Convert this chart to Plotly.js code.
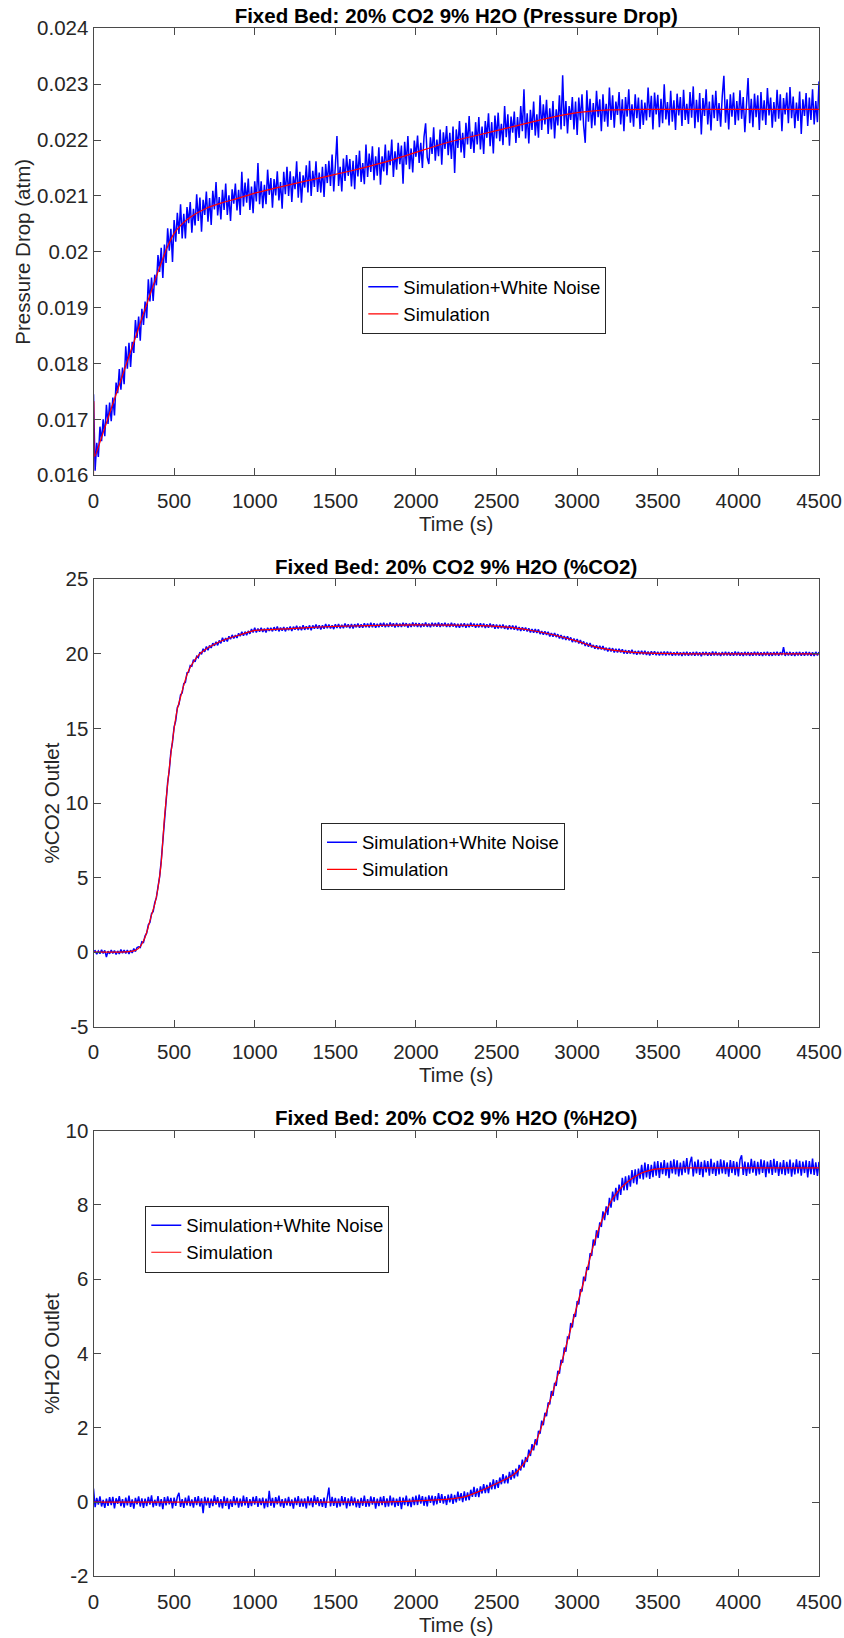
<!DOCTYPE html>
<html>
<head>
<meta charset="utf-8">
<script src="https://cdn.plot.ly/plotly-3.0.1.min.js"></script>
<style>
  html, body { margin: 0; padding: 0; background: #ffffff; }
  #chart { width: 844px; height: 1638px; }
</style>
</head>
<body>
<div id="chart"></div>
<script>
// ---------------- DATA ----------------
const timeTickVals = [0, 500, 1000, 1500, 2000, 2500, 3000, 3500, 4000, 4500];
const timeTickLabels = ["0", "500", "1000", "1500", "2000", "2500", "3000", "3500", "4000", "4500"];

// Chart 1: pressure drop (atm); noisy samples every 10 s
const pressureStep = 10;
const pressureNoisy = [
  0.01745,
  0.01608, 0.01658, 0.01633, 0.01687, 0.01661, 0.01700, 0.01670, 0.01726, 0.01692, 0.01730,
  0.01697, 0.01739, 0.01707, 0.01766, 0.01747, 0.01790, 0.01753, 0.01793, 0.01763, 0.01831,
  0.01791, 0.01837, 0.01794, 0.01839, 0.01819, 0.01878, 0.01846, 0.01884, 0.01841, 0.01898,
  0.01869, 0.01911, 0.01881, 0.01951, 0.01911, 0.01954, 0.01912, 0.01959, 0.01940, 0.01994,
  0.01964, 0.02007, 0.01953, 0.02013, 0.01980, 0.02042, 0.02002, 0.02041, 0.01982, 0.02057,
  0.02018, 0.02070, 0.02032, 0.02085, 0.02024, 0.02068, 0.02024, 0.02080, 0.02051, 0.02089,
  0.02034, 0.02077, 0.02047, 0.02103, 0.02055, 0.02097, 0.02036, 0.02093, 0.02066, 0.02108,
  0.02054, 0.02096, 0.02048, 0.02109, 0.02076, 0.02125, 0.02065, 0.02098, 0.02058, 0.02111,
  0.02075, 0.02122, 0.02066, 0.02101, 0.02055, 0.02112, 0.02086, 0.02122, 0.02074, 0.02111,
  0.02066, 0.02143, 0.02081, 0.02124, 0.02088, 0.02131, 0.02075, 0.02117, 0.02069, 0.02126,
  0.02090, 0.02159, 0.02085, 0.02126, 0.02078, 0.02120, 0.02085, 0.02147, 0.02102, 0.02132,
  0.02079, 0.02130, 0.02101, 0.02144, 0.02092, 0.02125, 0.02077, 0.02143, 0.02103, 0.02152,
  0.02100, 0.02144, 0.02089, 0.02135, 0.02112, 0.02162, 0.02097, 0.02143, 0.02088, 0.02137,
  0.02115, 0.02155, 0.02106, 0.02163, 0.02100, 0.02145, 0.02116, 0.02162, 0.02107, 0.02142,
  0.02106, 0.02152, 0.02098, 0.02157, 0.02123, 0.02163, 0.02118, 0.02174, 0.02108, 0.02153,
  0.02207, 0.02118, 0.02152, 0.02108, 0.02167, 0.02127, 0.02173, 0.02136, 0.02166, 0.02117,
  0.02163, 0.02112, 0.02173, 0.02135, 0.02181, 0.02125, 0.02159, 0.02121, 0.02192, 0.02134,
  0.02176, 0.02143, 0.02189, 0.02128, 0.02171, 0.02136, 0.02187, 0.02120, 0.02171, 0.02144,
  0.02192, 0.02137, 0.02181, 0.02155, 0.02201, 0.02134, 0.02180, 0.02147, 0.02195, 0.02157,
  0.02190, 0.02122, 0.02197, 0.02156, 0.02207, 0.02148, 0.02185, 0.02142, 0.02199, 0.02170,
  0.02208, 0.02159, 0.02195, 0.02150, 0.02206, 0.02230, 0.02169, 0.02157, 0.02205, 0.02175,
  0.02223, 0.02163, 0.02201, 0.02171, 0.02219, 0.02156, 0.02214, 0.02184, 0.02225, 0.02173,
  0.02213, 0.02166, 0.02224, 0.02141, 0.02219, 0.02186, 0.02234, 0.02178, 0.02213, 0.02168,
  0.02231, 0.02192, 0.02243, 0.02184, 0.02215, 0.02177, 0.02232, 0.02192, 0.02241, 0.02183,
  0.02224, 0.02175, 0.02234, 0.02204, 0.02248, 0.02189, 0.02232, 0.02176, 0.02244, 0.02203,
  0.02249, 0.02198, 0.02229, 0.02191, 0.02261, 0.02205, 0.02246, 0.02190, 0.02242, 0.02213,
  0.02251, 0.02195, 0.02241, 0.02204, 0.02261, 0.02216, 0.02291, 0.02203, 0.02248, 0.02194,
  0.02254, 0.02218, 0.02269, 0.02208, 0.02246, 0.02204, 0.02280, 0.02218, 0.02264, 0.02228,
  0.02272, 0.02211, 0.02257, 0.02219, 0.02270, 0.02203, 0.02255, 0.02226, 0.02280, 0.02219,
  0.02316, 0.02225, 0.02270, 0.02212, 0.02261, 0.02236, 0.02277, 0.02219, 0.02269, 0.02209,
  0.02276, 0.02235, 0.02282, 0.02226, 0.02195, 0.02289, 0.02233, 0.02274, 0.02221, 0.02266,
  0.02226, 0.02288, 0.02241, 0.02273, 0.02216, 0.02282, 0.02233, 0.02265, 0.02224, 0.02294,
  0.02236, 0.02280, 0.02222, 0.02269, 0.02245, 0.02286, 0.02228, 0.02273, 0.02216, 0.02277,
  0.02242, 0.02291, 0.02231, 0.02264, 0.02224, 0.02282, 0.02239, 0.02276, 0.02220, 0.02272,
  0.02227, 0.02267, 0.02235, 0.02294, 0.02241, 0.02279, 0.02219, 0.02285, 0.02246, 0.02281,
  0.02223, 0.02274, 0.02230, 0.02300, 0.02237, 0.02268, 0.02226, 0.02288, 0.02233, 0.02271,
  0.02218, 0.02283, 0.02244, 0.02277, 0.02225, 0.02290, 0.02236, 0.02265, 0.02229, 0.02286,
  0.02240, 0.02296, 0.02221, 0.02272, 0.02232, 0.02284, 0.02210, 0.02275, 0.02243, 0.02291,
  0.02228, 0.02269, 0.02217, 0.02281, 0.02239, 0.02288, 0.02234, 0.02266, 0.02224, 0.02279,
  0.02315, 0.02231, 0.02273, 0.02219, 0.02282, 0.02242, 0.02285, 0.02227, 0.02270, 0.02235,
  0.02289, 0.02238, 0.02277, 0.02214, 0.02267, 0.02311, 0.02230, 0.02274, 0.02223, 0.02283,
  0.02241, 0.02280, 0.02218, 0.02286, 0.02235, 0.02271, 0.02227, 0.02293, 0.02244, 0.02276,
  0.02222, 0.02268, 0.02233, 0.02290, 0.02238, 0.02282, 0.02216, 0.02275, 0.02246, 0.02285,
  0.02230, 0.02295, 0.02239, 0.02278, 0.02221, 0.02267, 0.02234, 0.02287, 0.02211, 0.02273,
  0.02243, 0.02284, 0.02225, 0.02276, 0.02236, 0.02291, 0.02228, 0.02270, 0.02232, 0.02305
];
const pressureSimTime = [0, 2, 8, 50, 100, 150, 200, 250, 300, 350, 400, 450, 500, 550, 600, 700, 800, 900, 1000, 1200, 1400, 1600, 1800, 2000, 2200, 2400, 2600, 2800, 3000, 3200, 3400, 4500];
const pressureSim = [0.01600, 0.01733, 0.01634, 0.01668, 0.01711, 0.01753, 0.01796, 0.01838, 0.01881, 0.01923, 0.01964, 0.02003, 0.02033, 0.02050, 0.02062, 0.02078, 0.02088, 0.02096, 0.02105, 0.02119, 0.02132, 0.02145, 0.02160, 0.02178, 0.02196, 0.02210, 0.02224, 0.02238, 0.02249, 0.02254, 0.02255, 0.02255];
const pressureTickVals = [0.016, 0.017, 0.018, 0.019, 0.020, 0.021, 0.022, 0.023, 0.024];
const pressureTickLabels = ["0.016", "0.017", "0.018", "0.019", "0.02", "0.021", "0.022", "0.023", "0.024"];

// Chart 2: %CO2 outlet; noisy samples every 10 s
const co2Step = 10;
const co2Noisy = [
  0.05,
  0.09, -0.13, 0.07, -0.10, 0.15, -0.08, 0.12, -0.33, 0.06, -0.11,
  0.14, -0.09, 0.11, -0.16, 0.08, -0.12, 0.17, -0.07, 0.13, -0.08,
  0.14, -0.12, 0.13, -0.05, 0.24, 0.04, 0.31, 0.35, 0.31, 0.69,
  0.65, 1.10, 1.27, 1.83, 1.99, 2.59, 2.71, 3.32, 3.65, 4.38,
  5.05, 6.12, 7.41, 9.11, 10.02, 11.38, 12.18, 13.44, 14.06, 15.10,
  15.51, 16.41, 16.61, 17.25, 17.38, 18.00, 18.09, 18.73, 18.77, 19.22,
  19.17, 19.61, 19.47, 19.84, 19.75, 20.11, 19.98, 20.34, 20.14, 20.49,
  20.25, 20.56, 20.40, 20.72, 20.54, 20.81, 20.57, 20.90, 20.71, 21.08,
  20.81, 21.06, 20.83, 21.18, 20.98, 21.27, 21.03, 21.26, 21.07, 21.38,
  21.19, 21.48, 21.21, 21.49, 21.25, 21.54, 21.34, 21.66, 21.43, 21.76,
  21.43, 21.70, 21.49, 21.75, 21.47, 21.69, 21.43, 21.75, 21.54, 21.74,
  21.51, 21.79, 21.55, 21.83, 21.51, 21.76, 21.55, 21.80, 21.51, 21.77,
  21.59, 21.83, 21.53, 21.82, 21.62, 21.88, 21.59, 21.84, 21.58, 21.92,
  21.61, 21.85, 21.64, 21.91, 21.59, 21.91, 21.69, 21.96, 21.68, 21.92,
  21.64, 21.92, 21.68, 22.01, 21.72, 21.96, 21.71, 21.92, 21.66, 21.99,
  21.73, 22.00, 21.71, 21.95, 21.72, 22.04, 21.77, 21.98, 21.72, 22.00,
  21.70, 21.99, 21.78, 22.03, 21.76, 21.98, 21.75, 22.06, 21.78, 22.03,
  21.77, 22.08, 21.79, 22.05, 21.75, 22.01, 21.79, 22.07, 21.83, 22.08,
  21.78, 22.04, 21.80, 22.10, 21.83, 22.05, 21.77, 22.07, 21.81, 22.03,
  21.81, 22.08, 21.84, 22.06, 21.76, 22.04, 21.80, 22.10, 21.84, 22.06,
  21.80, 22.06, 21.78, 22.04, 21.83, 22.11, 21.81, 22.03, 21.79, 22.08,
  21.84, 22.07, 21.82, 22.10, 21.80, 22.05, 21.85, 22.08, 21.80, 22.03,
  21.80, 22.09, 21.83, 22.04, 21.77, 22.01, 21.75, 22.04, 21.80, 22.05,
  21.75, 22.01, 21.79, 22.08, 21.82, 22.03, 21.76, 22.01, 21.78, 22.05,
  21.79, 22.03, 21.74, 21.98, 21.75, 22.03, 21.78, 21.98, 21.69, 21.96,
  21.70, 21.95, 21.72, 21.96, 21.68, 21.89, 21.63, 21.91, 21.66, 21.90,
  21.62, 21.89, 21.58, 21.80, 21.53, 21.78, 21.56, 21.77, 21.50, 21.71,
  21.43, 21.67, 21.42, 21.66, 21.40, 21.64, 21.33, 21.53, 21.28, 21.52,
  21.27, 21.48, 21.17, 21.40, 21.16, 21.40, 21.13, 21.32, 21.04, 21.26,
  20.99, 21.19, 20.94, 21.18, 20.91, 21.10, 20.79, 21.02, 20.78, 20.99,
  20.70, 20.92, 20.65, 20.83, 20.53, 20.75, 20.48, 20.73, 20.43, 20.60,
  20.34, 20.57, 20.31, 20.54, 20.29, 20.52, 20.24, 20.41, 20.17, 20.40,
  20.17, 20.38, 20.09, 20.34, 20.09, 20.34, 20.10, 20.30, 20.02, 20.25,
  20.01, 20.23, 20.02, 20.27, 19.99, 20.19, 19.95, 20.21, 19.98, 20.20,
  19.96, 20.20, 19.93, 20.15, 19.89, 20.17, 19.94, 20.17, 19.91, 20.14,
  19.89, 20.13, 19.92, 20.15, 19.90, 20.16, 19.92, 20.13, 19.88, 20.11,
  19.89, 20.14, 19.90, 20.11, 19.86, 20.12, 19.90, 20.14, 19.87, 20.11,
  19.90, 20.12, 19.87, 20.14, 19.89, 20.10, 19.85, 20.12, 19.91, 20.13,
  19.87, 20.11, 19.88, 20.15, 19.90, 20.13, 19.89, 20.09, 19.86, 20.12,
  19.89, 20.14, 19.90, 20.12, 19.87, 20.11, 19.88, 20.15, 19.90, 20.13,
  19.88, 20.10, 19.86, 20.13, 19.89, 20.12, 19.87, 20.10, 19.88, 20.14,
  19.90, 20.13, 19.88, 20.11, 19.86, 20.12, 19.89, 20.14, 19.87, 20.10,
  19.87, 20.12, 19.90, 20.14, 19.88, 20.11, 19.91, 20.45, 19.86, 20.12,
  19.89, 20.13, 19.88, 20.10, 19.86, 20.12, 19.90, 20.13, 19.88, 20.11,
  19.88, 20.14, 19.89, 20.12, 19.87, 20.10, 19.86, 20.13, 19.90, 20.12
];
const co2SimTime = [0, 100, 200, 250, 280, 300, 320, 340, 360, 380, 400, 420, 440, 460, 480, 500, 520, 540, 560, 580, 600, 650, 700, 750, 800, 900, 1000, 1100, 1200, 1400, 1600, 1800, 2000, 2200, 2400, 2500, 2600, 2700, 2800, 2900, 3000, 3100, 3200, 3300, 3400, 3500, 3700, 4500];
const co2Sim = [0, 0, 0.02, 0.08, 0.25, 0.55, 1.0, 1.7, 2.5, 3.2, 4.3, 6.0, 9.0, 11.3, 13.3, 15.0, 16.3, 17.1, 17.9, 18.6, 19.1, 19.9, 20.35, 20.65, 20.9, 21.25, 21.57, 21.63, 21.68, 21.8, 21.87, 21.92, 21.94, 21.93, 21.9, 21.85, 21.76, 21.6, 21.4, 21.15, 20.85, 20.5, 20.28, 20.15, 20.07, 20.03, 20.0, 20.0];
const co2TickVals = [-5, 0, 5, 10, 15, 20, 25];
const co2TickLabels = ["-5", "0", "5", "10", "15", "20", "25"];

// Chart 3: %H2O outlet; noisy samples every 10 s
const h2oStep = 10;
const h2oNoisy = [
  0.36,
  -0.14, 0.11, -0.07, 0.15, -0.12, 0.06, -0.16, 0.09, -0.10, 0.13,
  -0.08, 0.14, -0.17, 0.10, -0.05, 0.16, -0.11, 0.08, -0.15, 0.12,
  -0.09, 0.17, -0.13, 0.07, -0.18, 0.11, -0.06, 0.15, -0.12, 0.10,
  -0.16, 0.09, -0.11, 0.14, -0.07, 0.18, -0.14, 0.06, -0.10, 0.16,
  -0.12, 0.08, -0.19, 0.13, -0.09, 0.15, -0.06, 0.11, -0.17, 0.12,
  -0.10, 0.14, 0.25, -0.13, 0.08, -0.16, 0.12, -0.09, 0.17, -0.11,
  0.07, -0.15, 0.13, -0.08, 0.16, -0.12, 0.10, -0.30, 0.14, -0.09,
  0.12, -0.16, 0.09, -0.11, 0.18, -0.07, 0.13, -0.14, 0.08, -0.17,
  0.15, -0.10, 0.11, -0.19, 0.07, -0.13, 0.16, -0.08, 0.12, -0.15,
  0.09, -0.12, 0.17, -0.09, 0.13, -0.16, 0.08, -0.11, 0.14, -0.07,
  0.16, -0.13, 0.10, -0.08, 0.12, -0.17, 0.09, -0.14, 0.30, -0.10,
  0.11, -0.15, 0.13, -0.06, 0.17, -0.12, 0.08, -0.16, 0.10, -0.09,
  0.14, -0.11, 0.07, -0.18, 0.12, -0.08, 0.16, -0.13, 0.09, -0.12,
  0.10, -0.17, 0.15, -0.09, 0.11, -0.14, 0.18, -0.07, 0.13, -0.11,
  0.08, -0.13, 0.12, -0.16, 0.09, 0.39, -0.12, 0.14, -0.10, 0.11,
  -0.15, 0.09, -0.12, 0.16, -0.08, 0.13, -0.17, 0.10, -0.11, 0.15,
  -0.09, 0.12, -0.14, 0.07, -0.16, 0.11, -0.10, 0.17, -0.13, 0.08,
  -0.12, 0.15, -0.07, 0.13, -0.18, 0.09, -0.11, 0.14, -0.08, 0.16,
  -0.14, 0.10, -0.12, 0.17, -0.09, 0.12, -0.14, 0.09, -0.10, 0.14,
  -0.19, 0.12, -0.08, 0.17, -0.11, 0.09, -0.14, 0.14, -0.08, 0.17,
  -0.08, 0.20, -0.04, 0.16, -0.10, 0.14, -0.12, 0.18, -0.02, 0.17,
  -0.09, 0.16, -0.06, 0.24, -0.02, 0.21, -0.04, 0.16, -0.08, 0.20,
  -0.01, 0.22, -0.05, 0.19, -0.01, 0.28, 0.04, 0.24, 0.00, 0.29,
  0.04, 0.26, 0.05, 0.33, 0.14, 0.41, 0.14, 0.37, 0.13, 0.42,
  0.23, 0.48, 0.24, 0.46, 0.24, 0.53, 0.34, 0.61, 0.35, 0.59,
  0.38, 0.66, 0.48, 0.75, 0.50, 0.71, 0.50, 0.81, 0.60, 0.86,
  0.64, 0.90, 0.69, 1.00, 0.85, 1.14, 0.93, 1.21, 1.08, 1.41,
  1.24, 1.56, 1.39, 1.69, 1.53, 1.92, 1.84, 2.19, 2.07, 2.40,
  2.31, 2.68, 2.63, 2.99, 2.86, 3.21, 3.13, 3.53, 3.46, 3.83,
  3.75, 4.16, 4.05, 4.44, 4.41, 4.82, 4.70, 5.06, 4.99, 5.41,
  5.32, 5.73, 5.67, 6.07, 5.95, 6.33, 6.25, 6.70, 6.63, 7.07,
  6.91, 7.32, 7.11, 7.53, 7.41, 7.83, 7.59, 7.96, 7.73, 8.19,
  7.93, 8.36, 8.09, 8.46, 8.13, 8.55, 8.27, 8.73, 8.39, 8.77,
  8.40, 8.80, 8.49, 8.94, 8.59, 8.96, 8.55, 8.98, 8.71, 9.08,
  8.69, 9.14, 8.74, 9.10, 8.70, 9.08, 8.75, 9.17, 8.79, 9.18,
  8.73, 9.15, 8.83, 9.21, 8.79, 9.14, 8.72, 9.19, 8.85, 9.23,
  8.82, 9.20, 8.77, 9.14, 8.80, 9.19, 8.87, 9.26, 8.82, 9.14,
  9.30, 8.77, 9.17, 8.85, 9.22, 8.81, 9.16, 8.75, 9.20, 8.88,
  9.18, 8.79, 9.24, 8.84, 9.14, 8.78, 9.19, 8.82, 9.23, 8.85,
  9.20, 8.83, 9.15, 8.76, 9.21, 8.86, 9.18, 8.80, 9.16, 8.77,
  9.22, 9.34, 8.81, 9.17, 8.78, 9.15, 8.84, 9.24, 8.87, 9.19,
  8.79, 9.16, 8.82, 9.23, 8.86, 9.20, 8.75, 9.17, 8.85, 9.21,
  8.81, 9.24, 8.87, 9.18, 8.78, 9.15, 8.83, 9.21, 8.80, 9.16,
  8.84, 9.22, 8.76, 9.14, 8.82, 9.23, 8.85, 9.19, 8.79, 9.17,
  8.86, 9.20, 8.74, 9.18, 8.83, 9.25, 8.81, 9.15, 8.78, 9.16
];
const h2oSimTime = [0, 1800, 2000, 2200, 2300, 2400, 2500, 2600, 2650, 2700, 2750, 2800, 2850, 2900, 2950, 3000, 3050, 3100, 3150, 3200, 3250, 3300, 3350, 3400, 3450, 3500, 3600, 3700, 4500];
const h2oSim = [0, 0, 0.03, 0.08, 0.14, 0.30, 0.50, 0.72, 0.93, 1.25, 1.68, 2.30, 2.98, 3.70, 4.50, 5.30, 6.08, 6.90, 7.55, 8.02, 8.35, 8.58, 8.74, 8.86, 8.93, 8.97, 8.99, 9.0, 9.0];
const h2oTickVals = [-2, 0, 2, 4, 6, 8, 10];
const h2oTickLabels = ["-2", "0", "2", "4", "6", "8", "10"];

const seriesNames = ["Simulation+White Noise", "Simulation"];
const chartTitles = [
  "Fixed Bed: 20% CO2 9% H2O (Pressure Drop)",
  "Fixed Bed: 20% CO2 9% H2O (%CO2)",
  "Fixed Bed: 20% CO2 9% H2O (%H2O)"
];
const yTitles = ["Pressure Drop (atm)", "%CO2 Outlet", "%H2O Outlet"];
const xTitle = "Time (s)";

// ---------------- BUILD ----------------
const W = 844, H = 1638;
const FONT = 'Liberation Sans, Arial, Helvetica, sans-serif';
const TXC = '#262626';
const AXC = '#4a4a4a';
const TICKSIZE = 20.5;
const LEGSIZE = 18.5;

function sampleTimes(values, step) { return values.map((_, i) => i * step); }

const px2x = p => p / W;
const px2y = p => 1 - p / H;
const xDom = [px2x(93.5), px2x(819)];
const yDoms = [
  [px2y(475.3), px2y(28.3)],
  [px2y(1026.7), px2y(579.3)],
  [px2y(1576.3), px2y(1130.7)]
];

const blue = '#0000ff', red = '#ff0000';
const traces = [];
const sets = [
  {t: sampleTimes(pressureNoisy, pressureStep), y: pressureNoisy, st: pressureSimTime, sy: pressureSim},
  {t: sampleTimes(co2Noisy, co2Step), y: co2Noisy, st: co2SimTime, sy: co2Sim},
  {t: sampleTimes(h2oNoisy, h2oStep), y: h2oNoisy, st: h2oSimTime, sy: h2oSim}
];
sets.forEach((s, i) => {
  const sfx = i === 0 ? '' : String(i + 1);
  const leg = 'legend' + sfx;
  traces.push({
    x: s.t, y: s.y, type: 'scatter', mode: 'lines', name: seriesNames[0],
    line: {color: blue, width: 1.5}, xaxis: 'x' + sfx, yaxis: 'y' + sfx, legend: leg
  });
  traces.push({
    x: s.st, y: s.sy, type: 'scatter', mode: 'lines', name: seriesNames[1],
    line: {color: red, width: 1.2, shape: 'spline', smoothing: 0.5}, xaxis: 'x' + sfx, yaxis: 'y' + sfx, legend: leg
  });
});

function xAxis(i) {
  return {
    domain: xDom, anchor: 'y' + (i === 0 ? '' : i + 1), range: [0, 4500],
    tickmode: 'array', tickvals: timeTickVals, ticktext: timeTickLabels,
    ticks: 'inside', ticklen: 7, tickwidth: 1, tickcolor: AXC,
    showline: true, linecolor: AXC, linewidth: 1, mirror: 'ticks',
    showgrid: false, zeroline: false, automargin: false,
    ticklabelstandoff: 7,
    tickfont: {family: FONT, size: TICKSIZE, color: TXC},
    title: {text: xTitle, font: {family: FONT, size: TICKSIZE, color: TXC}, standoff: 1}
  };
}
function yAxis(i, range, vals, labels) {
  return {
    domain: yDoms[i], anchor: 'x' + (i === 0 ? '' : i + 1), range: range,
    tickmode: 'array', tickvals: vals, ticktext: labels,
    ticks: 'inside', ticklen: 7, tickwidth: 1, tickcolor: AXC,
    showline: true, linecolor: AXC, linewidth: 1, mirror: 'ticks',
    showgrid: false, zeroline: false, automargin: false,
    tickfont: {family: FONT, size: TICKSIZE, color: TXC},
    title: {text: yTitles[i], font: {family: FONT, size: TICKSIZE, color: TXC}, standoff: 0}
  };
}
function legendBox(xpx, ypx) {
  return {
    x: px2x(xpx), y: px2y(ypx), xanchor: 'left', yanchor: 'top',
    bgcolor: '#ffffff', bordercolor: TXC, borderwidth: 1,
    font: {family: FONT, size: LEGSIZE, color: '#000000'},
    tracegroupgap: 0, itemwidth: 30
  };
}

const titleX = (93.5 + 819) / 2 / W;
const titleFont = {family: FONT, size: TICKSIZE, color: '#000000'};
const layout = {
  width: W, height: H,
  margin: {l: 0, r: 0, t: 0, b: 0, pad: 0},
  paper_bgcolor: '#ffffff', plot_bgcolor: '#ffffff',
  showlegend: true,
  title: {
    text: '<b>' + chartTitles[0] + '</b>', x: titleX, xref: 'paper', xanchor: 'center',
    y: px2y(16), yref: 'paper', yanchor: 'middle', font: titleFont
  },
  annotations: [
    {text: '<b>' + chartTitles[1] + '</b>', x: titleX, y: px2y(566), xref: 'paper', yref: 'paper',
     xanchor: 'center', yanchor: 'middle', showarrow: false, font: titleFont},
    {text: '<b>' + chartTitles[2] + '</b>', x: titleX, y: px2y(1117.5), xref: 'paper', yref: 'paper',
     xanchor: 'center', yanchor: 'middle', showarrow: false, font: titleFont}
  ],
  xaxis: xAxis(0), xaxis2: xAxis(1), xaxis3: xAxis(2),
  yaxis: yAxis(0, [0.016, 0.024], pressureTickVals, pressureTickLabels),
  yaxis2: yAxis(1, [-5, 25], co2TickVals, co2TickLabels),
  yaxis3: yAxis(2, [-2, 10], h2oTickVals, h2oTickLabels),
  legend: legendBox(362.3, 267.3),
  legend2: legendBox(321, 822.7),
  legend3: legendBox(145.3, 1205.7)
};

Plotly.newPlot('chart', traces, layout, {displayModeBar: false, responsive: false});
</script>
</body>
</html>
